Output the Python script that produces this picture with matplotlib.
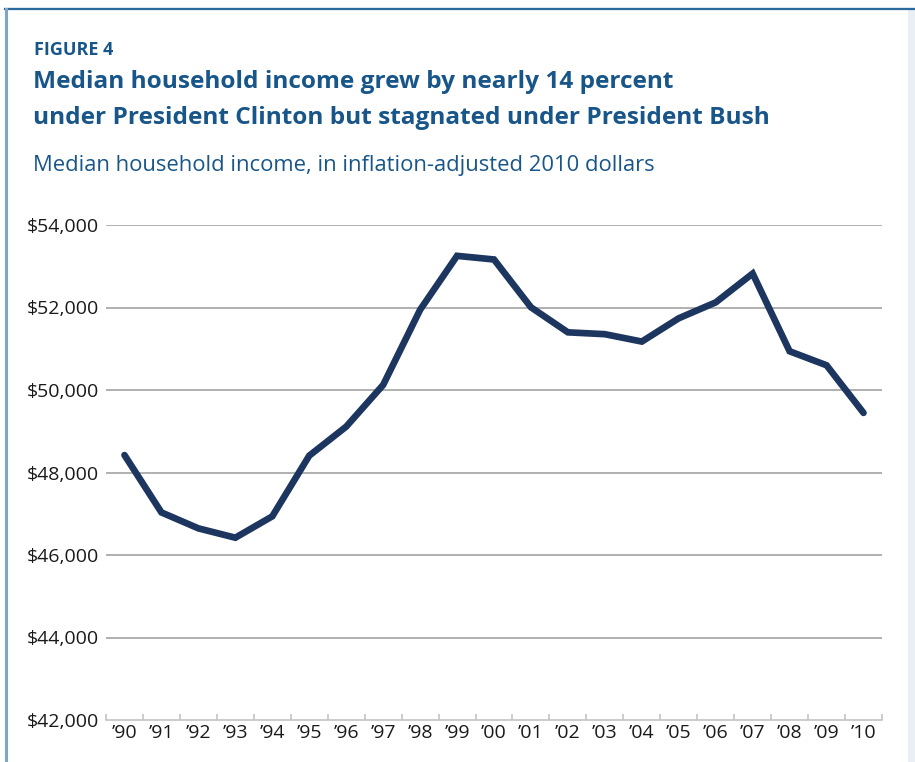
import matplotlib
matplotlib.use("Agg")
import matplotlib.pyplot as plt
from matplotlib.patches import Rectangle
from matplotlib.lines import Line2D
from matplotlib.ticker import FixedLocator, NullFormatter

# Median household income, inflation-adjusted 2010 dollars
years = ["’90", "’91", "’92", "’93", "’94", "’95", "’96", "’97", "’98", "’99", "’00",
         "’01", "’02", "’03", "’04", "’05", "’06", "’07", "’08", "’09", "’10"]
income = [48423, 47032, 46646, 46419, 46937, 48408, 49112, 50123, 51944, 53252, 53164,
          52005, 51398, 51353, 51174, 51739, 52124, 52823, 50939, 50599, 49445]
y_ticks = [42000, 44000, 46000, 48000, 50000, 52000, 54000]

TITLE_BLUE = "#18568a"
LINE_NAVY = "#1c365f"
FONT = "Open Sans"

fig = plt.figure(figsize=(9.15, 7.62), dpi=100)
fig.patch.set_facecolor("white")

W, H = 915, 762
def fx(px):
    return px / W
def fy(py):
    return 1 - py / H

# Frame: right-hand tinted strip, top rule, left rule
fig.add_artist(Rectangle((fx(908), 0), 1 - fx(908), fy(9), transform=fig.transFigure,
                         facecolor="#eaeff5", edgecolor="none", zorder=0))
fig.add_artist(Line2D([fx(5), 1], [fy(7.5), fy(7.5)], transform=fig.transFigure,
                      color="#d5e0ea", lw=1.0))
fig.add_artist(Line2D([fx(5), 1], [fy(9), fy(9)], transform=fig.transFigure,
                      color="#2a6a9c", lw=1.6))
fig.add_artist(Line2D([fx(6), fx(6)], [0, fy(9)], transform=fig.transFigure,
                      color="#7fa6c9", lw=2.2))

# Headings
fig.text(fx(34), fy(50), "FIGURE 4", fontsize=13, fontweight="bold", color=TITLE_BLUE,
         family=FONT, va="center", ha="left")
fig.text(fx(33), fy(82), "Median household income grew by nearly 14 percent",
         fontsize=17.6, fontweight="bold", color=TITLE_BLUE, family=FONT, va="center")
fig.text(fx(33), fy(118), "under President Clinton but stagnated under President Bush",
         fontsize=17.6, fontweight="bold", color=TITLE_BLUE, family=FONT, va="center")
fig.text(fx(33), fy(165), "Median household income, in inflation-adjusted 2010 dollars",
         fontsize=15.8, color=TITLE_BLUE, family=FONT, va="center")

ax = fig.add_axes([fx(106), fy(720), fx(882) - fx(106), fy(225) - fy(720)])
x = list(range(len(years)))
ax.plot(x, income, color=LINE_NAVY, lw=4.8, solid_capstyle="round",
        solid_joinstyle="miter", zorder=3, clip_on=False)

ax.set_xlim(-0.5, len(years) - 0.5)
ax.set_ylim(y_ticks[0], y_ticks[-1])

for v in y_ticks[1:]:
    ax.axhline(v, color="#a3a3a3", lw=1.2, zorder=1)

for s in ["top", "right", "left"]:
    ax.spines[s].set_visible(False)
ax.spines["bottom"].set_color("#c4c4c4")
ax.spines["bottom"].set_linewidth(1.2)

ax.set_yticks(y_ticks)
ax.set_yticklabels([f"${v:,}" for v in y_ticks], family=FONT, fontsize=14, color="#1a1a1a")
ax.tick_params(axis="y", length=0, pad=5)

ax.set_xticks(x)
ax.set_xticklabels(years, family=FONT, fontsize=14, color="#1a1a1a")
ax.tick_params(axis="x", which="major", length=0, pad=3)
ax.xaxis.set_minor_locator(FixedLocator([i - 0.5 for i in range(len(years) + 1)]))
ax.xaxis.set_minor_formatter(NullFormatter())
ax.tick_params(axis="x", which="minor", direction="in", length=4, color="#c4c4c4", width=1.2)

fig.savefig("out.png", dpi=100, facecolor="white")
